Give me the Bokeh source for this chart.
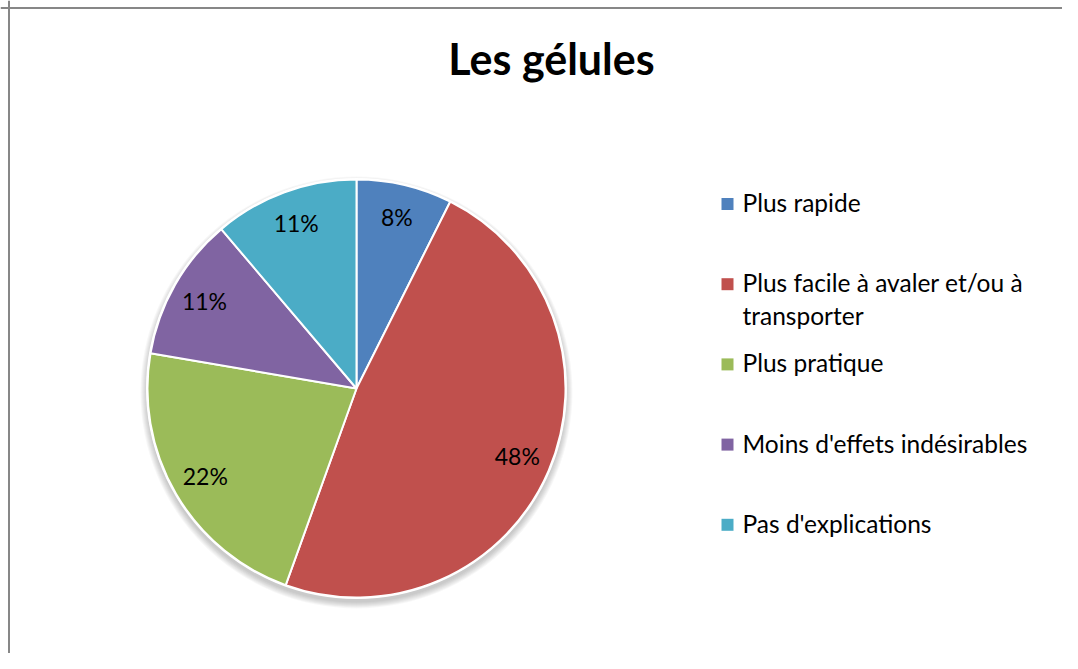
import math
from bokeh.plotting import figure
from bokeh.models import Range1d, Span, ColumnDataSource
from bokeh.core.properties import value
from bokeh.embed import file_html
from bokeh.resources import INLINE

# ---- data ----
title = "Les gélules"
categories = [
    "Plus rapide",
    "Plus facile à avaler et/ou à\ntransporter",
    "Plus pratique",
    "Moins d'effets indésirables",
    "Pas d'explications",
]
shares = [7.4, 48.1, 22.2, 11.1, 11.2]
share_labels = ["8%", "48%", "22%", "11%", "11%"]
colors = ["#4F81BD", "#C0504D", "#9BBB59", "#8064A2", "#4BACC6"]

# ---- layout (pixel frame) ----
W, H = 1062, 653
FONT = "Lato"


def X(ix):
    return ix


def Y(iy):
    return H - iy


p = figure(width=W, height=H, x_range=Range1d(0, W), y_range=Range1d(0, H),
           toolbar_location=None, output_backend="svg", min_border=0,
           x_axis_location=None, y_axis_location=None)
p.grid.visible = False
p.outline_line_color = None
p.background_fill_color = "white"
p.border_fill_color = "white"

# chart-area border (top & left visible)
p.add_layout(Span(location=Y(7.5), dimension="width", line_color="#878787", line_width=2))
p.add_layout(Span(location=X(8.5), dimension="height", line_color="#878787", line_width=2))

# title
p.text(x=[X(551)], y=[Y(58)], text=[title], text_font=value(FONT), text_font_style="bold",
       text_font_size="43px", text_align="center", text_baseline="middle", text_color="black")

# pie
cx, cy, R = X(356), Y(388), 209
total = sum(shares)
cum = [0.0]
for s in shares:
    cum.append(cum[-1] + s / total)
starts = [math.pi / 2 - 2 * math.pi * cum[i + 1] for i in range(len(shares))]
ends = [math.pi / 2 - 2 * math.pi * cum[i] for i in range(len(shares))]

# soft shadow below
for k in range(7):
    p.circle(x=[cx], y=[cy - 4], radius=R + 1 + k, fill_color="black",
             fill_alpha=0.03, line_color=None)
p.circle(x=[cx], y=[cy], radius=R + 1.5, fill_color="white", line_color=None)

src = ColumnDataSource(dict(start=starts, end=ends, color=colors))
p.wedge(x=cx, y=cy, radius=R, start_angle="start", end_angle="end", fill_color="color",
        line_color="white", line_width=2, source=src)

# slice labels
mids = [math.pi / 2 - 2 * math.pi * (cum[i] + cum[i + 1]) / 2 for i in range(len(shares))]
LR = 175
lx = [cx + LR * math.cos(m) for m in mids]
ly = [cy + LR * math.sin(m) + 1 for m in mids]
p.text(x=lx, y=ly, text=share_labels, text_font=value(FONT), text_font_size="23px",
       text_align="center", text_baseline="middle", text_color="black")

# legend
leg_x0 = X(721)
txt_x = X(742)
mid0 = Y(202)
step = 80.2
line_gap = 32.4
sq = 12
for i, (cat, col) in enumerate(zip(categories, colors)):
    m = mid0 - i * step
    p.rect(x=[leg_x0 + sq / 2], y=[m - 1.5], width=sq, height=sq, fill_color=col, line_color=None)
    lines = cat.split("\n")
    p.text(x=[txt_x] * len(lines), y=[m - j * line_gap for j in range(len(lines))], text=lines,
           text_font=value(FONT), text_font_size="24.5px", text_align="left",
           text_baseline="middle", text_color="black")

open("out.html", "w").write(file_html(p, INLINE))
